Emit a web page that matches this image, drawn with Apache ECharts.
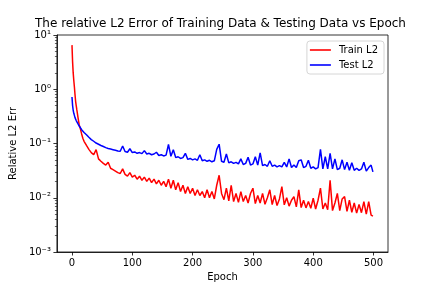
<!DOCTYPE html>
<html><head><meta charset="utf-8">
<script src="https://cdn.jsdelivr.net/npm/echarts@6/dist/echarts.min.js"></script>
<style>html,body{margin:0;padding:0;background:#fff}#c{width:432px;height:288px}</style>
</head><body><div id="c"></div>
<script>
const epochs = [0,1,2,3,4,5,6,7,8,10,12,14,16,18,20,
24,28,32,36,40,44,48,52,56,60,64,68,72,76,80,84,88,92,96,100,
104,108,112,116,120,124,128,132,136,140,144,148,152,156,160,164,168,172,176,180,
184,188,192,196,200,204,208,212,216,220,224,228,232,236,240,244,248,252,256,260,
264,268,272,276,280,284,288,292,296,300,304,308,312,316,320,324,328,332,336,340,
344,348,352,356,360,364,368,372,376,380,384,388,392,396,400,404,408,412,416,420,
424,428,432,436,440,444,448,452,456,460,464,468,472,476,480,484,488,492,496,499];
const trainL2 = [6.5,3.2,2.0,1.45,1.1,0.8,0.6,0.5,0.42,0.3,0.22,0.185,0.15,0.125,0.11,
0.092,0.078,0.068,0.062,0.077,0.052,0.047,0.043,0.040,0.045,0.035,0.033,0.031,0.029,0.028,0.034,0.027,0.025,0.029,0.024,
0.026,0.022,0.025,0.021,0.024,0.020,0.023,0.019,0.022,0.018,0.021,0.017,0.020,0.016,0.022,0.015,0.021,0.014,0.019,0.013,
0.017,0.012,0.016,0.012,0.015,0.011,0.014,0.011,0.013,0.010,0.014,0.010,0.013,0.0095,0.017,0.026,0.012,0.0092,0.015,0.0088,
0.017,0.0085,0.012,0.0082,0.013,0.0085,0.011,0.0080,0.012,0.015,0.0078,0.011,0.0080,0.012,0.0076,0.010,0.014,0.0075,0.011,0.0072,
0.0095,0.016,0.0074,0.010,0.0070,0.009,0.0105,0.0068,0.014,0.0066,0.009,0.0065,0.0085,0.0064,0.0098,0.0062,0.009,0.015,0.0062,0.0080,
0.0060,0.021,0.0058,0.0080,0.012,0.0058,0.0095,0.0105,0.0056,0.009,0.0054,0.008,0.0052,0.0075,0.0053,0.0085,0.0050,0.0085,0.0048,0.0046];
const testL2 = [0.72,0.50,0.41,0.36,0.33,0.30,0.28,0.265,0.25,0.23,0.21,0.195,0.18,0.17,0.16,
0.145,0.130,0.118,0.110,0.102,0.097,0.092,0.088,0.084,0.081,0.079,0.077,0.075,0.073,0.072,0.090,0.071,0.069,0.080,0.068,
0.070,0.066,0.068,0.065,0.074,0.064,0.066,0.062,0.064,0.069,0.060,0.062,0.059,0.061,0.096,0.058,0.077,0.055,0.057,0.053,
0.055,0.066,0.051,0.053,0.050,0.052,0.049,0.062,0.048,0.050,0.047,0.049,0.046,0.048,0.078,0.097,0.047,0.045,0.064,0.044,
0.046,0.043,0.045,0.042,0.052,0.041,0.043,0.056,0.040,0.042,0.057,0.040,0.067,0.039,0.041,0.038,0.048,0.038,0.040,0.037,
0.039,0.037,0.045,0.037,0.052,0.036,0.040,0.036,0.048,0.050,0.036,0.038,0.049,0.035,0.037,0.034,0.036,0.078,0.034,0.057,
0.034,0.066,0.034,0.052,0.033,0.035,0.050,0.033,0.045,0.032,0.044,0.032,0.035,0.032,0.034,0.045,0.031,0.036,0.040,0.030];
const xTicks = [0,100,200,300,400,500];
const yTicks = [0.001,0.01,0.1,1,10];
const yTickLabels = ['10⁻³','10⁻²','10⁻¹','10⁰','10¹'];
const yMinorTicks = [0.002,0.003,0.004,0.005,0.006,0.007,0.008,0.009,
0.02,0.03,0.04,0.05,0.06,0.07,0.08,0.09,0.2,0.3,0.4,0.5,0.6,0.7,0.8,0.9,2,3,4,5,6,7,8,9];

const font = 'DejaVu Sans';
const chart = echarts.init(document.getElementById('c'), null, {renderer:'canvas'});
chart.setOption({
  animation:false,
  backgroundColor:'#fff',
  textStyle:{fontFamily:font},
  title:{text:'The relative L2 Error of Training Data & Testing Data vs Epoch',left:35,top:18,padding:0,
    textStyle:{fontFamily:font,fontSize:12,fontWeight:'normal',color:'#000'}},
  grid:{left:54,right:44,top:35,bottom:36,show:true,borderColor:'#000',borderWidth:0.8,backgroundColor:'transparent'},
  legend:{orient:'vertical',right:48,top:41,icon:'rect',itemWidth:21,itemHeight:1.6,itemGap:3,
    padding:[3,6,3,3],borderColor:'#cccccc',borderWidth:0.8,borderRadius:3,backgroundColor:'rgba(255,255,255,0.8)',
    textStyle:{fontFamily:font,fontSize:10,color:'#000',lineHeight:12,padding:[0,0,0,3]},
    data:['Train L2','Test L2']},
  xAxis:{type:'value',min:-25,max:524,
    axisLine:{onZero:false,lineStyle:{color:'#000',width:0.8}},
    axisTick:{customValues:xTicks,length:3.5,lineStyle:{color:'#000',width:0.8}},
    axisLabel:{customValues:xTicks,fontFamily:font,fontSize:10,color:'#000',margin:6},
    splitLine:{show:false},
    name:'Epoch',nameLocation:'middle',nameGap:20,nameTextStyle:{fontFamily:font,fontSize:10,color:'#000',verticalAlign:'top'}},
  yAxis:[{type:'log',min:0.001,max:10,
    axisLine:{show:true,onZero:false,lineStyle:{color:'#000',width:0.8}},
    axisTick:{show:true,customValues:yTicks,length:3.5,lineStyle:{color:'#000',width:0.8}},
    axisLabel:{customValues:yTicks,fontFamily:font,fontSize:10,color:'#000',margin:6,
      formatter:function(v){const i=yTicks.findIndex(t=>Math.abs(t-v)/t<1e-6);return i>=0?yTickLabels[i]:'';}},
    splitLine:{show:false},
    name:'Relative L2 Err',nameLocation:'middle',nameGap:38,nameRotate:90,
    nameTextStyle:{fontFamily:font,fontSize:10,color:'#000'}},
   {type:'log',min:0.001,max:10,position:'left',
    axisLine:{show:false,onZero:false},
    axisTick:{show:true,customValues:yMinorTicks,length:2,lineStyle:{color:'#000',width:0.6}},
    axisLabel:{show:false},splitLine:{show:false}}],
  series:[
    {name:'Train L2',type:'line',showSymbol:false,symbol:'none',color:'#ff0000',lineStyle:{width:1.5,color:'#ff0000'},
     data:epochs.map((e,i)=>[e,trainL2[i]]),z:3},
    {name:'Test L2',type:'line',showSymbol:false,symbol:'none',color:'#0000ff',lineStyle:{width:1.5,color:'#0000ff'},
     data:epochs.map((e,i)=>[e,testL2[i]]),z:3}
  ]
});
</script></body></html>
